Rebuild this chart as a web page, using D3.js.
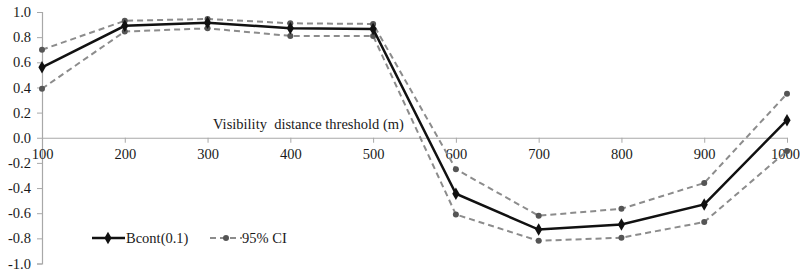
<!DOCTYPE html>
<html>
<head>
<meta charset="utf-8">
<script src="https://cdn.jsdelivr.net/npm/d3@7"></script>
<style>
body { margin:0; background:#fff; }
</style>
</head>
<body>
<div id="chart"></div>
<script>
// data
var thresholds = [100, 200, 300, 400, 500, 600, 700, 800, 900, 1000];
var bcont = [0.56, 0.89, 0.915, 0.87, 0.865, -0.445, -0.73, -0.69, -0.53, 0.14];
var ciUpper = [0.70, 0.93, 0.945, 0.91, 0.905, -0.25, -0.62, -0.565, -0.36, 0.35];
var ciLower = [0.39, 0.845, 0.87, 0.81, 0.81, -0.61, -0.82, -0.795, -0.67, -0.105];
var yTicks = [1.0, 0.8, 0.6, 0.4, 0.2, 0.0, -0.2, -0.4, -0.6, -0.8, -1.0];

var W = 800, H = 273;
var axisColor = "#a8a8a8";
var fontFam = "'Liberation Serif'";
var fontSize = "14.5px";

var svg = d3.select("#chart").append("svg")
	.attr("width", W)
	.attr("height", H);

var x = d3.scaleLinear().domain([100, 1000]).range([42, 787]);
var y = d3.scaleLinear().domain([-1, 1]).range([263.5, 12]);

function styleText(sel) {
	sel.style("font-family", fontFam)
		.style("font-size", fontSize)
		.attr("fill", "#1a1a1a");
}

// y axis
var yAxis = svg.append("g")
	.attr("transform", "translate(" + x(100) + ",0)")
	.call(d3.axisLeft(y).tickValues(yTicks).tickSize(5).tickPadding(6));
yAxis.select(".domain").attr("stroke", axisColor).attr("stroke-width", 1.2);
yAxis.selectAll(".tick line").attr("stroke", axisColor);
yAxis.selectAll(".tick text")
	.call(styleText)
	.text(function(d){ return d3.format(".1f")(d).replace("\u2212", "-"); });

// x axis at zero
var xAxis = svg.append("g")
	.attr("transform", "translate(0," + y(0) + ")")
	.call(d3.axisBottom(x).tickValues(thresholds).tickFormat(d3.format("d")).tickSize(5).tickSizeOuter(0).tickPadding(6));
xAxis.select(".domain").attr("stroke", axisColor).attr("stroke-width", 1.2);
xAxis.selectAll(".tick line").attr("stroke", axisColor);
xAxis.selectAll(".tick text")
	.call(styleText)
	.attr("dx", function(d){ return d === 1000 ? -2 : 0; });

svg.append("text")
	.attr("x", 213)
	.attr("y", 129)
	.call(styleText)
	.attr("xml:space", "preserve")
	.text("Visibility  distance threshold (m)");

var line = d3.line()
	.x(function(d, i){ return x(thresholds[i]); })
	.y(function(d){ return y(d); });

// confidence bounds
[ciUpper, ciLower].forEach(function(series){
	svg.append("path")
		.attr("d", line(series))
		.attr("fill", "none")
		.attr("stroke", "#8c8c8c")
		.attr("stroke-width", 2)
		.attr("stroke-dasharray", "6,4");
	svg.selectAll(null).data(series).enter().append("circle")
		.attr("cx", function(d, i){ return x(thresholds[i]); })
		.attr("cy", function(d){ return y(d); })
		.attr("r", 3)
		.attr("fill", "#555");
});

// main estimate
svg.append("path")
	.attr("d", line(bcont))
	.attr("fill", "none")
	.attr("stroke", "#111")
	.attr("stroke-width", 2.5);

var diamond = d3.symbol().type(d3.symbolDiamond).size(45);
svg.selectAll(null).data(bcont).enter().append("path")
	.attr("d", diamond)
	.attr("transform", function(d, i){ return "translate(" + x(thresholds[i]) + "," + y(d) + ")"; })
	.attr("fill", "#111");

// legend
var legY = 238;
svg.append("line").attr("x1", 92).attr("x2", 125).attr("y1", legY).attr("y2", legY)
	.attr("stroke", "#111").attr("stroke-width", 2.5);
svg.append("path").attr("d", diamond).attr("transform", "translate(108," + legY + ")").attr("fill", "#111");
svg.append("text").attr("x", 126).attr("y", legY + 4.5)
	.call(styleText).text("Bcont(0.1)");

svg.append("line").attr("x1", 210).attr("x2", 242).attr("y1", legY).attr("y2", legY)
	.attr("stroke", "#8c8c8c").attr("stroke-width", 2).attr("stroke-dasharray", "6,4");
svg.append("circle").attr("cx", 226).attr("cy", legY).attr("r", 3).attr("fill", "#555");
svg.append("text").attr("x", 242).attr("y", legY + 4.5)
	.call(styleText).text("95% CI");
</script>
</body>
</html>
